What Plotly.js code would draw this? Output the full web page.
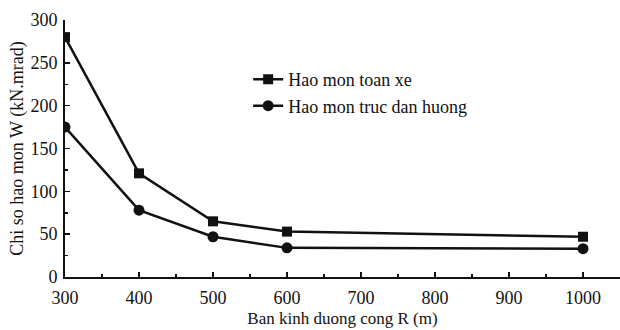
<!DOCTYPE html>
<html>
<head>
<meta charset="utf-8">
<script src="https://cdn.plot.ly/plotly-3.0.1.min.js"></script>
<style>html,body{margin:0;padding:0;background:#fff;}#chart{width:620px;height:330px;}</style>
</head>
<body>
<div id="chart"></div>
<script>
const xTickLabels = [300, 400, 500, 600, 700, 800, 900, 1000];
const radius = [300, 400, 500, 600, 1000];
const toanXe = [280, 121, 65, 53, 47];
const trucDanHuong = [175, 78, 47, 34, 33];
const seriesNames = ["Hao mon toan xe", "Hao mon truc dan huong"];

const xPos = radius.map(r => xTickLabels.indexOf(r));
const font = "Liberation Serif, Times New Roman, serif";

const traces = [
  {x: xPos, y: toanXe, name: seriesNames[0], mode: "lines+markers",
   line: {color: "#111", width: 2.5}, marker: {symbol: "square", size: 10, color: "#111"}},
  {x: xPos, y: trucDanHuong, name: seriesNames[1], mode: "lines+markers",
   line: {color: "#111", width: 2.5}, marker: {symbol: "circle", size: 11, color: "#111"}}
];

const layout = {
  width: 620, height: 330,
  margin: {l: 65, r: 0, t: 20, b: 53},
  paper_bgcolor: "#fff", plot_bgcolor: "#fff",
  font: {family: font, color: "#111", size: 18},
  showlegend: true,
  legend: {x: 0.33, y: 0.84, xanchor: "left", yanchor: "top", bgcolor: "rgba(0,0,0,0)",
           font: {family: font, size: 18, color: "#111"}, tracegroupgap: 0},
  xaxis: {
    range: [0, 7.5], tickvals: xTickLabels.map((v, i) => i), ticktext: xTickLabels.map(String),
    ticks: "inside", ticklen: 5, tickwidth: 1.5, tickcolor: "#111",
    minor: {dtick: 0.5, tick0: 0, ticks: "inside", ticklen: 3, tickcolor: "#111"},
    showline: true, linecolor: "#111", linewidth: 2, showgrid: false, zeroline: false,
    tickfont: {family: font, size: 18}, ticklabelstandoff: 3,
    title: {text: "Ban kinh duong cong R (m)", font: {family: font, size: 17}, standoff: 6}
  },
  yaxis: {
    range: [0, 300], dtick: 50, tick0: 0,
    ticks: "inside", ticklen: 5, tickwidth: 1.5, tickcolor: "#111",
    minor: {dtick: 25, ticks: "inside", ticklen: 3, tickcolor: "#111"},
    showline: true, linecolor: "#111", linewidth: 2, showgrid: false, zeroline: false,
    tickfont: {family: font, size: 18}, ticklabelstandoff: 2,
    title: {text: "Chi so hao mon W (kN.mrad)", font: {family: font, size: 18}, standoff: 2}
  }
};

Plotly.newPlot("chart", traces, layout, {displayModeBar: false, staticPlot: true});
</script>
</body>
</html>
